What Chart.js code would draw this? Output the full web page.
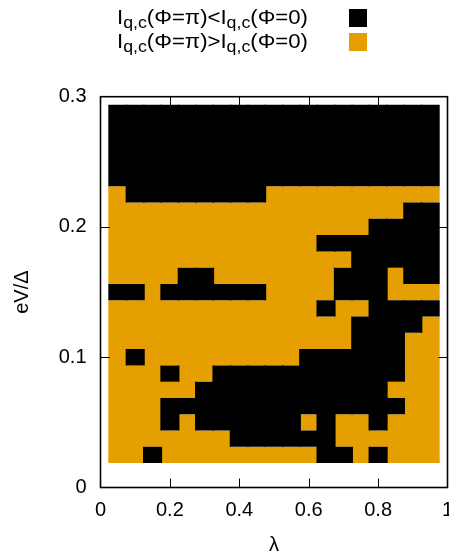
<!DOCTYPE html>
<html>
<head>
<meta charset="utf-8">
<script src="https://cdn.jsdelivr.net/npm/chart.js@4/dist/chart.umd.min.js"></script>
<style>
html,body{margin:0;padding:0;background:#fff;}
#wrap{width:449px;height:560px;position:relative;}
</style>
</head>
<body>
<div id="wrap"><canvas id="c"></canvas></div>
<script>
// ---- data ----
const lambdaValues = [0.05,0.10,0.15,0.20,0.25,0.30,0.35,0.40,0.45,0.50,0.55,0.60,0.65,0.70,0.75,0.80,0.85,0.90,0.95];
// eV/Δ grid values, top row first
const eVValues = [0.2875,0.2750,0.2625,0.2500,0.2375,0.2250,0.2125,0.2000,0.1875,0.1750,0.1625,0.1500,0.1375,0.1250,0.1125,0.1000,0.0875,0.0750,0.0625,0.0500,0.0375,0.0250];
// '1' : Iq,c(π) < Iq,c(0)   '0' : Iq,c(π) > Iq,c(0)   (one string per eV row, one char per λ)
const stateRows = [
  "1111111111111111111",
  "1111111111111111111",
  "1111111111111111111",
  "1111111111111111111",
  "1111111111111111111",
  "0111111110000000000",
  "0000000000000000011",
  "0000000000000001111",
  "0000000000001111111",
  "0000000000000011111",
  "0000110000000111011",
  "1101111110000111000",
  "0000000000001001111",
  "0000000000000011110",
  "0000000000000011100",
  "0100000000011111100",
  "0001001111111111100",
  "0000011111111111000",
  "0001111111111111100",
  "0001011111101001000",
  "0000000111111000000",
  "0010000000001101000"
];
const seriesLabels = ["I_{q,c}(Φ=π)<I_{q,c}(Φ=0)", "I_{q,c}(Φ=π)>I_{q,c}(Φ=0)"];
const seriesFlags = ["1", "0"];
const seriesColors = ["#000000", "#E69F00"];
const xTickLabels = ["0","0.2","0.4","0.6","0.8","1"];
const yTickLabels = ["0","0.1","0.2","0.3"];
const xTitle = "λ";
const yTitle = "eV/Δ";

// ---- build floating bars (vertical runs of equal state per λ column) ----
const halfRow = Math.abs(eVValues[0] - eVValues[1]) / 2;
function runsFor(flag) {
  const out = [];
  lambdaValues.forEach((lam, c) => {
    let start = null;
    for (let r = eVValues.length - 1; r >= 0; r--) {
      const on = stateRows[r][c] === flag;
      if (on && start === null) start = r;
      const nextOn = r - 1 >= 0 && stateRows[r - 1][c] === flag;
      if (on && !nextOn) {
        out.push({x: lam, y: [eVValues[start] - halfRow, eVValues[r] + halfRow]});
        start = null;
      }
    }
  });
  return out;
}

const FONT = "'Liberation Sans', Arial, Helvetica, sans-serif";
const tickFont = {family: FONT, size: 20};

// inward ticks + frame
const framePlugin = {
  id: 'frame',
  afterDatasetsDraw(chart) {
    const {ctx, chartArea: a, scales} = chart;
    ctx.save();
    ctx.strokeStyle = '#000';
    ctx.lineWidth = 1;
    const L = 9;
    const xs = scales.x, ys = scales.y;
    xs.ticks.forEach((t, i) => {
      if (i === 0 || i === xs.ticks.length - 1) return;
      const px = Math.round(xs.getPixelForValue(t.value)) + 0.5;
      ctx.beginPath();
      ctx.moveTo(px, a.bottom); ctx.lineTo(px, a.bottom - L);
      ctx.moveTo(px, a.top); ctx.lineTo(px, a.top + L);
      ctx.stroke();
    });
    ys.ticks.forEach((t, i) => {
      if (i === 0 || i === ys.ticks.length - 1) return;
      const py = Math.round(ys.getPixelForValue(t.value)) + 0.5;
      ctx.beginPath();
      ctx.moveTo(a.left, py); ctx.lineTo(a.left + L, py);
      ctx.moveTo(a.right, py); ctx.lineTo(a.right - L, py);
      ctx.stroke();
    });
    ctx.lineWidth = 1.6;
    ctx.strokeRect(a.left, a.top, a.right - a.left, a.bottom - a.top);
    ctx.restore();
  }
};

// legend with subscripts (gnuplot-like enhanced text)
function parseEnhanced(s) {
  const segs = [];
  let i = 0, buf = '';
  while (i < s.length) {
    if (s[i] === '_' && s[i + 1] === '{') {
      if (buf) segs.push({t: buf, sub: false});
      buf = '';
      const j = s.indexOf('}', i);
      segs.push({t: s.slice(i + 2, j), sub: true});
      i = j + 1;
    } else { buf += s[i]; i++; }
  }
  if (buf) segs.push({t: buf, sub: false});
  return segs;
}
const legendPlugin = {
  id: 'keyLegend',
  afterDraw(chart) {
    const {ctx} = chart;
    const textLeft = 117, textRight = 308, boxX = 349, box = 18;
    const rowsY = [18, 42];
    ctx.save();
    chart.data.datasets.forEach((ds, k) => {
      const cy = rowsY[k];
      const segs = parseEnhanced(ds.label);
      const fMain = `20px ${FONT}`, fSub = `16px ${FONT}`;
      let w = 0;
      segs.forEach(sg => { ctx.font = sg.sub ? fSub : fMain; sg.w = ctx.measureText(sg.t).width; w += sg.w; });
      const sx = (textRight - textLeft) / w;
      const base = cy + 5.5;
      ctx.save();
      ctx.translate(textLeft, 0);
      ctx.scale(sx, 1);
      ctx.fillStyle = '#000';
      ctx.textBaseline = 'alphabetic';
      ctx.textAlign = 'left';
      let x = 0;
      segs.forEach(sg => {
        ctx.font = sg.sub ? fSub : fMain;
        ctx.fillText(sg.t, x, sg.sub ? base + 4 : base);
        x += sg.w;
      });
      ctx.restore();
      ctx.fillStyle = ds.backgroundColor;
      ctx.fillRect(boxX, cy - box / 2, box, box);
    });
    ctx.restore();
  }
};

new Chart(document.getElementById('c'), {
  type: 'bar',
  data: {
    datasets: seriesLabels.map((lab, k) => ({
      label: lab,
      data: runsFor(seriesFlags[k]),
      backgroundColor: seriesColors[k],
      borderWidth: 0,
      grouped: false,
      barPercentage: 1.1,
      categoryPercentage: 1
    }))
  },
  options: {
    responsive: true,
    maintainAspectRatio: false,
    animation: false,
    devicePixelRatio: 1,
    layout: {padding: {top: 96.7, right: 1.5, left: 0, bottom: 0}},
    plugins: {legend: {display: false}, tooltip: {enabled: false}},
    scales: {
      x: {
        type: 'linear', min: 0, max: 1, offset: false,
        grid: {display: false, drawTicks: false}, border: {display: false},
        ticks: {stepSize: 0.2, padding: 11, font: tickFont, color: '#000', maxRotation: 0, autoSkip: false,
                callback: (v, i) => xTickLabels[i]},
        title: {display: true, text: xTitle, font: tickFont, color: '#000', padding: {top: 0, bottom: 3}},
        afterFit: s => { s.height = 72.5; s.paddingRight = 0; s.paddingLeft = 0; }
      },
      y: {
        type: 'linear', min: 0, max: 0.3,
        grid: {display: false, drawTicks: false}, border: {display: false},
        ticks: {stepSize: 0.1, padding: 14, font: tickFont, color: '#000', autoSkip: false,
                callback: (v, i) => yTickLabels[i]},
        title: {display: true, text: yTitle, font: tickFont, color: '#000', padding: {top: 10, bottom: 0}},
        afterFit: s => { s.width = 100.5; s.paddingTop = 0; s.paddingBottom = 0; }
      }
    }
  },
  plugins: [framePlugin, legendPlugin]
});
</script>
</body>
</html>
